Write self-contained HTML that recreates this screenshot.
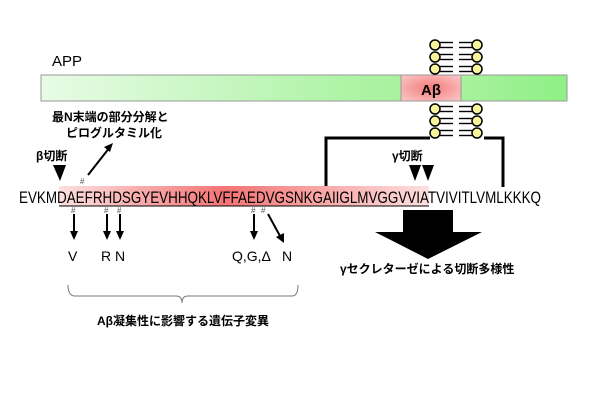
<!DOCTYPE html>
<html><head><meta charset="utf-8"><style>
body{margin:0;background:#fff;width:600px;height:400px;overflow:hidden}
svg{display:block}
text{font-family:"Liberation Sans","Noto Sans CJK JP",sans-serif}
</style></head><body>
<svg width="600" height="400" viewBox="0 0 600 400">
<defs>
<linearGradient id="g" x1="0" x2="1"><stop offset="0" stop-color="#e8fbe6"/><stop offset="0.8" stop-color="#b2f4aa"/><stop offset="1" stop-color="#a8f19e"/></linearGradient>
<linearGradient id="g2" x1="0" x2="1"><stop offset="0" stop-color="#a8f19e"/><stop offset="1" stop-color="#8ef084"/></linearGradient>
<radialGradient id="ab" cx="0.5" cy="0.5" r="0.7"><stop offset="0" stop-color="#f47a7a"/><stop offset="1" stop-color="#fbcaca"/></radialGradient>
<linearGradient id="seq" x1="0" x2="1"><stop offset="0" stop-color="#fde0e0"/><stop offset="0.45" stop-color="#f57474"/><stop offset="1" stop-color="#fde0e0"/></linearGradient>
<g id="lip"><circle cx="0" cy="0" r="5" fill="#fbf59a" stroke="#000" stroke-width="1.5"/><line x1="5" y1="-2.5" x2="18" y2="-2.5" stroke="#000" stroke-width="1.4"/><line x1="5" y1="2.5" x2="18" y2="2.5" stroke="#000" stroke-width="1.4"/></g>
<g id="lipr"><circle cx="0" cy="0" r="5" fill="#fbf59a" stroke="#000" stroke-width="1.5"/><line x1="-5" y1="-2.5" x2="-18" y2="-2.5" stroke="#000" stroke-width="1.4"/><line x1="-5" y1="2.5" x2="-18" y2="2.5" stroke="#000" stroke-width="1.4"/></g>
</defs>
<text x="52" y="66" font-size="15">APP</text>
<rect x="41" y="75" width="360" height="26" fill="url(#g)" stroke="#999"/>
<rect x="461" y="75" width="106" height="26" fill="url(#g2)" stroke="#999"/>
<rect x="401" y="75" width="60" height="26" fill="url(#ab)" stroke="#999"/>
<text x="431" y="95" font-size="15" font-weight="bold" text-anchor="middle">Aβ</text>
<use href="#lip" x="435" y="45"/><use href="#lip" x="435" y="57"/><use href="#lip" x="435" y="69"/>
<use href="#lipr" x="477" y="45"/><use href="#lipr" x="477" y="57"/><use href="#lipr" x="477" y="69"/>
<use href="#lip" x="435" y="109"/><use href="#lip" x="435" y="121"/><use href="#lip" x="435" y="133"/>
<use href="#lipr" x="477" y="109"/><use href="#lipr" x="477" y="121"/><use href="#lipr" x="477" y="133"/>
<polyline points="326,187 326,138 430,138" fill="none" stroke="#000" stroke-width="3"/>
<polyline points="484,138 503,138 503,187" fill="none" stroke="#000" stroke-width="3"/>
<text x="52" y="121" font-size="12" font-weight="bold">最N末端の部分分解と</text>
<text x="66" y="137" font-size="12" font-weight="bold">ピログルタミル化</text>
<text x="36" y="160" font-size="12" font-weight="bold">β切断</text>
<polygon points="53,165 66,165 60,181" fill="#000"/>
<line x1="88" y1="175" x2="110" y2="147" stroke="#000" stroke-width="2"/>
<polygon points="113,143 104,147 110,152" fill="#000"/>
<text x="392" y="160" font-size="12" font-weight="bold">γ切断</text>
<polygon points="409,165 421,165 415,181" fill="#000"/><polygon points="422,165 434,165 428,181" fill="#000"/>
<rect x="59" y="186" width="370" height="20" fill="url(#seq)"/>
<line x1="59" y1="206" x2="429" y2="206" stroke="#000"/>
<text x="19" y="203" font-size="17" textLength="522" lengthAdjust="spacingAndGlyphs">EVKMDAEFRHDSGYEVHHQKLVFFAEDVGSNKGAIIGLMVGGVVIATVIVITLVMLKKKQ</text>
<g font-size="8" fill="#555"><text x="80" y="184">#</text><text x="71" y="213">#</text><text x="104" y="213">#</text><text x="117" y="213">#</text><text x="251" y="213">#</text><text x="261" y="213">#</text></g>
<g stroke="#000" stroke-width="2"><line x1="74" y1="214" x2="74" y2="232"/><line x1="107" y1="214" x2="107" y2="232"/><line x1="120" y1="214" x2="120" y2="232"/><line x1="254" y1="214" x2="254" y2="232"/><line x1="268" y1="214" x2="280" y2="236"/></g>
<g fill="#000"><polygon points="70,231 78,231 74,240"/><polygon points="103,231 111,231 107,240"/><polygon points="116,231 124,231 120,240"/><polygon points="250,231 258,231 254,240"/><polygon points="276,237 284,233 284,243"/></g>
<g font-size="14"><text x="68" y="261">V</text><text x="101" y="261">R N</text><text x="232" y="261">Q,G,Δ</text><text x="282" y="261">N</text></g>
<rect x="403" y="210" width="50" height="22" fill="#000"/>
<polygon points="375,232 482,232 428,259" fill="#000"/>
<text x="340" y="273" font-size="12" font-weight="bold">γセクレターゼによる切断多様性</text>
<path d="M68,285 Q68,296 75,296 L176,296 Q182,296 182,303 Q182,296 188,296 L292,296 Q298,296 298,285" fill="none" stroke="#777"/>
<text x="183" y="325" font-size="12" font-weight="bold" text-anchor="middle">Aβ凝集性に影響する遺伝子変異</text>
</svg>
</body></html>
